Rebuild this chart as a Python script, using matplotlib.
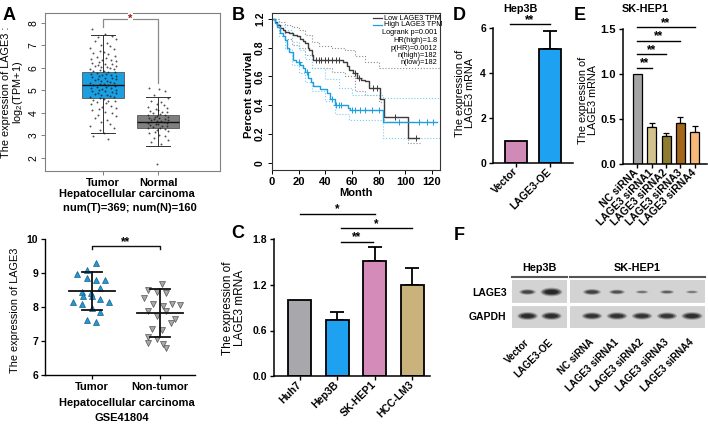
import numpy as np
import matplotlib
matplotlib.use('Agg')
import matplotlib.pyplot as plt
from matplotlib.patches import Ellipse

plt.rcParams['font.family'] = ['Liberation Sans', 'DejaVu Sans']
plt.rcParams['mathtext.fontset'] = 'custom'
plt.rcParams['mathtext.rm'] = 'Liberation Sans'
plt.rcParams['mathtext.it'] = 'Liberation Sans:italic'
plt.rcParams['mathtext.bf'] = 'Liberation Sans:bold'

# ======================= DATA =======================
# A (top) GEPIA box plot
gepia_groups = ['Tumor', 'Normal']
gepia_med = [5.22, 3.60]
gepia_q1 = [4.66, 3.34]
gepia_q3 = [5.81, 3.91]
gepia_wlo = [3.10, 2.54]
gepia_whi = [7.48, 4.73]
tumor_tpm = [7.75, 7.52, 7.44, 7.36, 7.28, 7.21, 7.12, 7.03, 6.97, 6.9, 6.84, 6.77, 6.71,
             6.66, 6.6, 6.55, 6.5, 6.46, 6.41, 6.37, 6.33, 6.3, 6.26, 6.22, 6.19, 6.16, 6.13,
             6.1, 6.07, 6.05, 6.02, 5.99, 5.96, 5.94, 5.91, 5.88, 5.85, 5.83, 5.8, 5.77, 5.75,
             5.72, 5.7, 5.67, 5.64, 5.62, 5.59, 5.57, 5.54, 5.51, 5.49, 5.46, 5.43, 5.41, 5.38,
             5.35, 5.33, 5.3, 5.28, 5.25, 5.22, 5.2, 5.17, 5.15, 5.12, 5.09, 5.07, 5.04, 5.01,
             4.98, 4.96, 4.93, 4.9, 4.87, 4.84, 4.81, 4.78, 4.75, 4.72, 4.69, 4.66, 4.62, 4.58,
             4.55, 4.51, 4.47, 4.42, 4.38, 4.33, 4.28, 4.23, 4.17, 4.12, 4.06, 3.99, 3.93, 3.86,
             3.78, 3.7, 3.61, 3.52, 3.43, 3.33, 3.22, 3.12, 2.98, 2.85]
normal_tpm = [5.12, 5.05, 4.96, 4.8, 4.66, 4.55, 4.47, 4.4, 4.34, 4.28, 4.23, 4.18, 4.14, 4.1,
              4.06, 4.02, 3.99, 3.96, 3.93, 3.9, 3.87, 3.84, 3.82, 3.79, 3.77, 3.74, 3.72, 3.69,
              3.67, 3.64, 3.62, 3.6, 3.57, 3.55, 3.52, 3.5, 3.47, 3.44, 3.41, 3.38, 3.35, 3.32,
              3.28, 3.24, 3.2, 3.15, 3.1, 3.04, 2.97, 2.89, 2.8, 2.7, 2.6, 1.72]
gepia_n_text = 'num(T)=369; num(N)=160'

# A (bottom) GSE41804 scatter
geo_groups = ['Tumor', 'Non-tumor']
geo_tumor = [9.29, 9.08, 8.97, 8.84, 8.78, 8.78, 8.56, 8.43, 8.41, 8.33, 8.31, 8.25, 8.16,
             8.16, 8.09, 7.96, 7.86, 7.63, 7.57]
geo_nontumor = [8.68, 8.49, 8.43, 8.41, 8.26, 8.10, 8.10, 8.07, 8.04, 7.87, 7.87, 7.75, 7.65,
                7.53, 7.36, 7.33, 7.12, 7.06, 6.94, 6.79, 6.92]
geo_mean = [8.47, 7.83]
geo_sd = [0.55, 0.70]

# B survival
low_t = [0, 2, 4, 6, 8, 10, 13, 16, 19, 21, 23, 25, 27, 28, 30, 31, 53, 56, 58, 61, 64, 67, 70,
         73, 81, 84, 102, 110]
low_s = [1.0, 0.98, 0.96, 0.935, 0.925, 0.91, 0.90, 0.885, 0.877, 0.86, 0.845, 0.83, 0.80,
         0.785, 0.75, 0.715, 0.70, 0.67, 0.645, 0.62, 0.59, 0.575, 0.565, 0.52, 0.44, 0.32,
         0.17, 0.17]
high_t = [0, 2, 4, 6, 8, 10, 11, 13, 16, 18, 21, 23, 25, 27, 29, 31, 36, 41, 43.5, 47, 55, 57,
          58.5, 83, 124]
high_s = [1.0, 0.97, 0.94, 0.90, 0.88, 0.855, 0.80, 0.77, 0.715, 0.70, 0.68, 0.655, 0.63,
          0.59, 0.56, 0.53, 0.51, 0.485, 0.44, 0.40, 0.40, 0.38, 0.37, 0.28, 0.28]
low_cens = [33, 35, 37, 40, 42, 45, 48, 50, 62, 65, 76, 79, 92, 108]
high_cens = [20, 26, 45, 48, 50, 52, 60, 62, 66, 70, 75, 80, 95, 110, 116, 121]
low_up_t = [0, 5, 10, 15, 20, 25, 30, 35, 45, 55, 62, 70, 80, 126]
low_up_s = [1.0, 0.98, 0.96, 0.94, 0.92, 0.89, 0.84, 0.81, 0.80, 0.78, 0.74, 0.70, 0.66, 0.66]
low_lo_t = [0, 5, 10, 15, 20, 25, 30, 45, 55, 62, 70, 80, 84, 102, 112]
low_lo_s = [1.0, 0.9, 0.86, 0.82, 0.80, 0.75, 0.66, 0.63, 0.6, 0.50, 0.47, 0.42, 0.28, 0.14, 0.14]
high_up_t = [0, 5, 10, 15, 20, 25, 30, 40, 50, 60, 83, 126]
high_up_s = [1.0, 0.96, 0.92, 0.84, 0.78, 0.72, 0.66, 0.58, 0.52, 0.47, 0.45, 0.45]
high_lo_t = [0, 5, 10, 15, 20, 25, 30, 40, 47, 58, 83, 126]
high_lo_s = [1.0, 0.88, 0.79, 0.68, 0.62, 0.56, 0.50, 0.43, 0.34, 0.30, 0.17, 0.17]
surv_xticks = [0, 20, 40, 60, 80, 100, 120]
surv_yticks = [0, 0.2, 0.4, 0.6, 0.8, 1.0]
surv_yticklabels = ['0', '0.2', '0.4', '0.6', '0.8', '1.2']
surv_legend = ['Low LAGE3 TPM', 'High LAGE3 TPM']
surv_stats = ['Logrank p=0.001', 'HR(high)=1.8', 'p(HR)=0.0012', 'n(high)=182', 'n(low)=182']

# C cell lines
c_cats = ['Huh7', 'Hep3B', 'SK-HEP1', 'HCC-LM3']
c_vals = [1.0, 0.74, 1.52, 1.20]
c_err = [0.0, 0.11, 0.18, 0.22]
c_sig = [(0, 2, 2.14, '*'), (1.1, 3, 1.95, '*'), (1.1, 1.95, 1.77, '**')]

# D Hep3B overexpression
d_cats = ['Vector', 'LAGE3-OE']
d_vals = [1.0, 5.07]
d_err = [0.0, 0.81]

# E SK-HEP1 knockdown
e_cats = ['NC siRNA', 'LAGE3 siRNA1', 'LAGE3 siRNA2', 'LAGE3 siRNA3', 'LAGE3 siRNA4']
e_vals = [1.0, 0.41, 0.31, 0.455, 0.36]
e_err = [0.0, 0.045, 0.04, 0.065, 0.06]
e_sig = [(1, 1.07), (2, 1.22), (3, 1.37), (4, 1.52)]

# F western blot (relative band intensities)
f_left_lanes = ['Vector', 'LAGE3-OE']
f_right_lanes = ['NC siRNA', 'LAGE3 siRNA1', 'LAGE3 siRNA2', 'LAGE3 siRNA3', 'LAGE3 siRNA4']
f_rows = ['LAGE3', 'GAPDH']
f_lage3_left = [0.55, 1.0]
f_gapdh_left = [0.9, 0.9]
f_lage3_right = [0.6, 0.42, 0.16, 0.28, 0.12]
f_gapdh_right = [0.8, 0.82, 0.8, 0.78, 0.88]

# ======================= FIGURE =======================
W, H = 708, 429
fig = plt.figure(figsize=(W / 100, H / 100), dpi=100)


def place(x0, y0, x1, y1):
    return fig.add_axes([x0 / W, 1 - y1 / H, (x1 - x0) / W, (y1 - y0) / H])


def ptext(x, y, s, **kw):
    kw.setdefault('ha', 'center')
    kw.setdefault('va', 'center')
    fig.text(x / W, 1 - y / H, s, **kw)


jit = [-0.83, 0.12, 0.67, -0.35, 0.91, -0.6, 0.28, -0.12, 0.5, -0.95, 0.78, -0.22, 0.04,
       -0.71, 0.38, 0.86, -0.46, 0.2, -0.88, 0.6, -0.05, 0.95, -0.3]

# ---------------- A top ----------------
ax = place(45, 13, 220, 171)
ax.set_xlim(-0.055, 3.127)
ax.set_ylim(1.42, 8.44)
stats = [dict(med=gepia_med[i], q1=gepia_q1[i], q3=gepia_q3[i], whislo=gepia_wlo[i],
              whishi=gepia_whi[i], label=gepia_groups[i]) for i in range(2)]
bp = ax.bxp(stats, positions=[1, 2], widths=0.78, patch_artist=True, showfliers=False,
            capwidths=0.42,
            boxprops=dict(linewidth=0.6, edgecolor='#555555'),
            medianprops=dict(color='#111111', linewidth=1.0),
            whiskerprops=dict(color='#333333', linewidth=0.7),
            capprops=dict(color='#333333', linewidth=0.7))
for patch, c in zip(bp['boxes'], ['#1a9fe3', '#7f7f7f']):
    patch.set_facecolor(c)
for pos, vals, spread in [(1, tumor_tpm, 0.25), (2, normal_tpm, 0.2)]:
    xs = [pos + spread * jit[i % len(jit)] for i in range(len(vals))]
    ax.plot(xs, vals, 'o', ms=1.4, color='#1a1a1a', alpha=0.75, mew=0, zorder=4)
ax.plot([1, 1, 2, 2], [7.82, 8.18, 8.18, 5.33], color='#8a8a8a', lw=0.9, zorder=3)
ax.text(1.5, 8.18, '*', color='#a01818', fontsize=8, fontweight='bold', ha='center',
        va='center', bbox=dict(facecolor='white', edgecolor='none', pad=0.6), zorder=5)
for s in ax.spines.values():
    s.set_color('#808080')
    s.set_linewidth(0.8)
ax.set_yticks([2, 3, 4, 5, 6, 7, 8])
ax.set_yticklabels(['2', '3', '4', '5', '6', '7', '8'], rotation=90, va='center', fontsize=7.5)
ax.set_xticks([1, 2])
ax.set_xticklabels(gepia_groups, fontsize=8, fontweight='bold')
ax.tick_params(colors='#808080', labelcolor='black', length=3, width=0.7, pad=2)
ax.tick_params(axis='y', pad=1.5)
ptext(13, 92, 'The expression of LAGE3 :\nlog$_2$(TPM+1)', rotation=90, fontsize=7.8,
      linespacing=1.05)
ptext(127, 194, 'Hepatocellular carcinoma', fontsize=8, fontweight='bold')
ptext(130, 208, gepia_n_text, fontsize=8, fontweight='bold')

# ---------------- A bottom ----------------
ax = place(45, 239, 195, 375)
ax.set_xlim(0.31, 2.52)
ax.set_ylim(6, 10)
t_off = [4, -5, -14.5, -5, 4, 13, 8, -10, -1, -9.3, 0, 8, -18.7, 17, -9.7, 0, 8, -5, 4]
n_off = [2, -11.3, -3, 6.3, -16, -6.3, 12, 20, 3, -11.3, 6, -2.7, 15, 11, -7.3, 2, -11.3, -3,
         -11.3, 6, 3]
ax.plot([1 + o / 68 for o in t_off], geo_tumor, '^', ms=5, color='#1e9ad6', mec='#1b5e88',
        mew=0.5, zorder=3)
ax.plot([2 + o / 68 for o in n_off], geo_nontumor, 'v', ms=5, color='#a8a8a8', mec='#555555',
        mew=0.5, zorder=3)
for pos, m, sd in zip([1, 2], geo_mean, geo_sd):
    ax.plot([pos - 0.34, pos + 0.34], [m, m], color='#111', lw=1.3, zorder=4)
    ax.plot([pos, pos], [m - sd, m + sd], color='#111', lw=1.3, zorder=4)
    for yy in (m - sd, m + sd):
        ax.plot([pos - 0.15, pos + 0.15], [yy, yy], color='#111', lw=1.3, zorder=4)
ax.plot([1, 1, 2, 2], [9.72, 9.8, 9.8, 9.72], color='#111', lw=1.0, clip_on=False)
ax.text(1.5, 9.83, '**', ha='center', va='baseline', fontsize=8.5, fontweight='bold')
for s in ['top', 'right']:
    ax.spines[s].set_visible(False)
for s in ['left', 'bottom']:
    ax.spines[s].set_linewidth(1.0)
ax.set_yticks([6, 7, 8, 9, 10])
ax.set_yticklabels(['6', '7', '8', '9', '10'], fontsize=7.5, fontweight='bold')
ax.set_xticks([1, 2])
ax.set_xticklabels(geo_groups, fontsize=8, fontweight='bold')
ax.tick_params(length=3, width=0.9, pad=2)
ptext(15, 310, 'The expression of LAGE3', rotation=90, fontsize=7.8)
ptext(127, 403, 'Hepatocellular carcinoma', fontsize=8, fontweight='bold')
ptext(122, 418, 'GSE41804', fontsize=8, fontweight='bold')

# ---------------- B survival ----------------
ax = place(272, 13, 440, 170)
ax.set_xlim(0, 126)
ax.set_ylim(-0.05, 1.04)
c_low, c_high = '#3c3c3c', '#1e9ee0'
ax.step(low_up_t, low_up_s, where='post', ls=':', color='#8c8c8c', lw=0.8)
ax.step(low_lo_t, low_lo_s, where='post', ls=':', color='#8c8c8c', lw=0.8)
ax.step(high_up_t, high_up_s, where='post', ls=':', color='#78cdf5', lw=0.8)
ax.step(high_lo_t, high_lo_s, where='post', ls=':', color='#78cdf5', lw=0.8)
ax.step(low_t, low_s, where='post', color=c_low, lw=1.0)
ax.step(high_t, high_s, where='post', color=c_high, lw=1.0)


def step_at(ts, ss, t):
    i = np.searchsorted(ts, t, side='right') - 1
    return ss[max(i, 0)]


ax.plot(low_cens, [step_at(low_t, low_s, t) for t in low_cens], '+', color=c_low, ms=4, mew=0.7)
ax.plot(high_cens, [step_at(high_t, high_s, t) for t in high_cens], '+', color=c_high, ms=4,
        mew=0.7)
for s in ax.spines.values():
    s.set_color('#333333')
    s.set_linewidth(0.8)
ax.set_xticks(surv_xticks)
ax.set_xticklabels([str(v) for v in surv_xticks], fontsize=8, fontweight='bold')
ax.set_yticks(surv_yticks)
ax.set_yticklabels(surv_yticklabels, rotation=90, va='center', fontsize=7.5, fontweight='bold')
ax.tick_params(length=3, width=0.7, pad=2)
# legend
leg_y = [18, 25]
for lab, c, yy in zip(surv_legend, [c_low, c_high], leg_y):
    fy = 1 - (yy - 13) / 157
    ax.plot([0.60, 0.655], [fy, fy], color=c, lw=0.9, transform=ax.transAxes)
    ax.text(0.665, fy, lab, fontsize=5.3, va='center', ha='left', transform=ax.transAxes)
for k, lab in enumerate(surv_stats):
    fy = 1 - (33 + 7.5 * k - 13) / 157
    ax.text(0.985, fy, lab, fontsize=5.3, va='center', ha='right', transform=ax.transAxes)
ptext(249, 95, 'Percent survival', rotation=90, fontsize=8, fontweight='bold')
ptext(356, 193, 'Month', fontsize=8, fontweight='bold')


# ---------------- Prism style helpers ----------------
def prism(ax, ymax, yticks, ylabels, fs=7.5):
    for s in ['top', 'right']:
        ax.spines[s].set_visible(False)
    for s in ['left', 'bottom']:
        ax.spines[s].set_linewidth(1.1)
    ax.spines['left'].set_bounds(0, ymax)
    ax.set_ylim(0, ymax)
    ax.set_yticks(yticks)
    ax.set_yticklabels(ylabels, fontsize=fs, fontweight='bold')
    ax.tick_params(length=3, width=1.0, pad=2)


def bars(ax, cats, vals, errs, colors, width, lw, capsize):
    x = np.arange(len(cats))
    ax.bar(x, vals, width=width, color=colors, edgecolor='black', linewidth=lw, zorder=2)
    for xi, v, e in zip(x, vals, errs):
        if e > 0:
            ax.errorbar([xi], [v], yerr=[[0], [e]], fmt='none', ecolor='black', elinewidth=lw,
                        capsize=capsize, capthick=lw, zorder=1)
    ax.set_xticks(x)
    ax.set_xticklabels(cats, rotation=45, ha='right', va='center', rotation_mode='anchor',
                       fontsize=7.5, fontweight='bold')
    ax.tick_params(axis='x', pad=5)


# ---------------- C ----------------
ax = place(274, 239.5, 430, 376)
ax.set_xlim(-0.69, 3.47)
bars(ax, c_cats, c_vals, c_err, ['#a8a7ab', '#1ea1f0', '#d58bb9', '#c9b27c'], 0.61, 1.3, 5)
prism(ax, 1.8, [0, 0.6, 1.2, 1.8], ['0.0', '0.6', '1.2', '1.8'])
for x0, x1, yy, lab in c_sig:
    ax.plot([x0, x1], [yy, yy], color='black', lw=1.0, clip_on=False)
    ax.text((x0 + x1) / 2, yy + 0.015, lab, ha='center', va='baseline', fontsize=8.5,
            fontweight='bold')
ptext(234, 308, 'The expression of\nLAGE3 mRNA', rotation=90, fontsize=8.5, linespacing=1.0)

# ---------------- D ----------------
ax = place(493, 28, 573, 163)
ax.set_xlim(-0.69, 1.70)
bars(ax, d_cats, d_vals, d_err, ['#d08ab8', '#1ea1f0'], 0.66, 1.3, 5)
prism(ax, 6, [0, 2, 4, 6], ['0', '2', '4', '6'])
ax.plot([-0.18, 1], [6.18, 6.18], color='black', lw=1.0, clip_on=False)
ax.text(0.41, 6.22, '**', ha='center', va='baseline', fontsize=8.5, fontweight='bold')
ptext(465, 93, 'The expression of\nLAGE3 mRNA', rotation=90, fontsize=7.8, linespacing=1.0)
ptext(520, 9, 'Hep3B', fontsize=7.8, fontweight='bold')

# ---------------- E ----------------
ax = place(623, 29, 707, 164)
ax.set_xlim(-0.97, 4.83)
bars(ax, e_cats, e_vals, e_err,
     ['#a5a5a5', '#d2c28e', '#8e7a30', '#a3661b', '#f6b97a'], 0.62, 0.9, 2.5)
prism(ax, 1.5, [0, 0.5, 1.0, 1.5], ['0.0', '0.5', '1.0', '1.5'], fs=8)
for xe, yy in e_sig:
    ax.plot([0, xe], [yy, yy], color='black', lw=1.0, clip_on=False)
    ax.text(xe / 2, yy + 0.015, '**', ha='center', va='baseline', fontsize=8.5,
            fontweight='bold')
ptext(588, 100, 'The expression of\nLAGE3 mRNA', rotation=90, fontsize=7.8, linespacing=1.0)
ptext(645, 9, 'SK-HEP1', fontsize=7.8, fontweight='bold')


# ---------------- F western blot ----------------
def band(ax, x, y, v):
    w = 0.45 + 0.45 * v
    h = 0.10 + 0.26 * v
    for sw, sh, a in [(1.0, 1.0, 0.25), (0.85, 0.75, 0.45), (0.65, 0.5, 0.75)]:
        ax.add_patch(Ellipse((x, y), w * sw, h * sh, color='#1c1c1c',
                             alpha=min(1.0, a * (0.35 + 0.75 * v)), lw=0))


def blot(ax, lanes, lage3, gapdh, title, xlim):
    ax.set_facecolor('#d3d3d3')
    ax.set_xlim(*xlim)
    ax.set_ylim(2, 0)
    for i, (a, g) in enumerate(zip(lage3, gapdh)):
        band(ax, i, 0.5, a)
        band(ax, i, 1.5, g)
    ax.axhline(1.0, color='white', lw=2.3)
    for s in ax.spines.values():
        s.set_visible(False)
    ax.set_xticks(range(len(lanes)))
    ax.set_xticklabels(lanes, rotation=45, ha='right', va='center', rotation_mode='anchor',
                       fontsize=7, fontweight='bold')
    ax.tick_params(axis='x', length=0, pad=9)
    ax.tick_params(axis='y', length=0, pad=4)
    ax.set_yticks([])
    ax.plot([0, 1], [1.065, 1.065], color='#555555', lw=1.5, transform=ax.transAxes,
            clip_on=False)
    ax.text(0.5, 1.25, title, transform=ax.transAxes, ha='center', va='center', fontsize=7.8,
            fontweight='bold')


axl = place(512, 280, 567, 328)
blot(axl, f_left_lanes, f_lage3_left, f_gapdh_left, 'Hep3B', (-0.65, 1.65))
axl.set_yticks([0.5, 1.5])
axl.set_yticklabels(f_rows, fontsize=7.5, fontweight='bold')
axr = place(570, 280, 705, 328)
blot(axr, f_right_lanes, f_lage3_right, f_gapdh_right, 'SK-HEP1', (-0.88, 4.52))

# ---------------- panel letters ----------------
for lab, x, y in [('A', 9, 15), ('B', 238, 15), ('C', 238, 233), ('D', 459, 15),
                  ('E', 580, 15), ('F', 459, 236)]:
    ptext(x, y, lab, fontsize=13, fontweight='bold')

fig.savefig('out.png', dpi=100)
